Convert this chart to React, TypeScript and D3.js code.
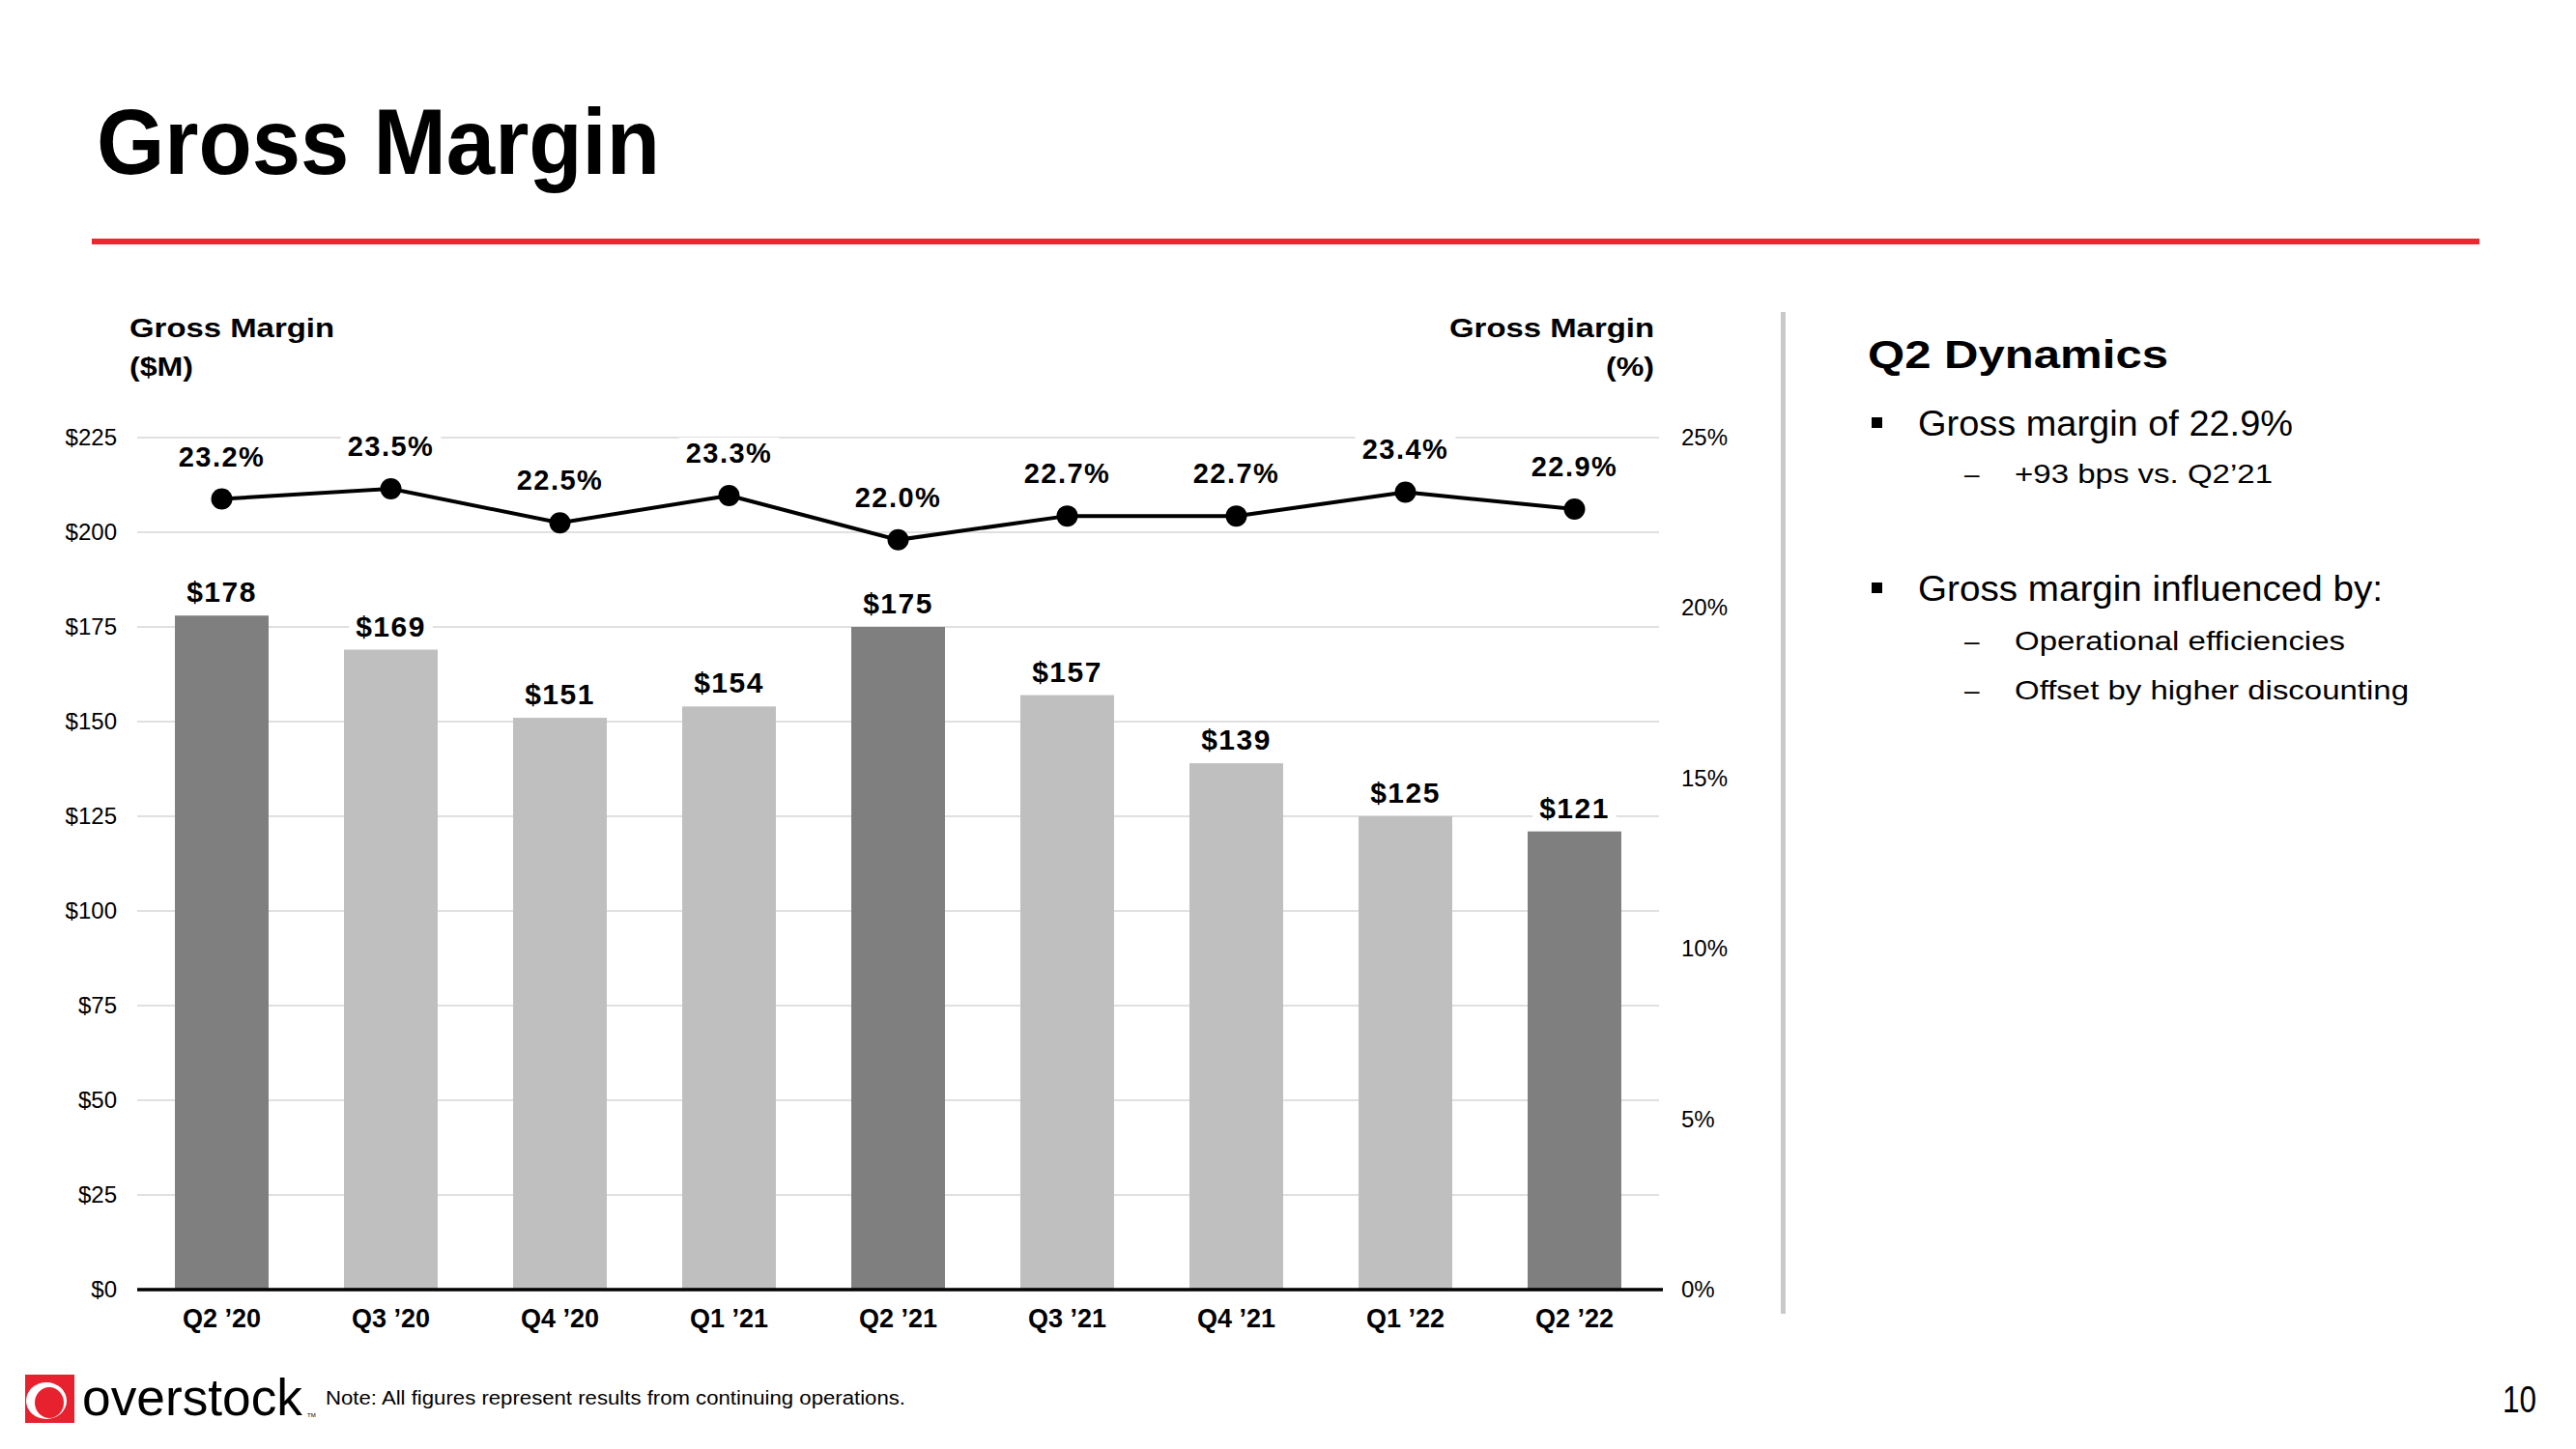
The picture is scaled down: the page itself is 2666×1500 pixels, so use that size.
import { useEffect } from 'react';
import * as d3 from 'd3';

const quarters = ["Q2 \u201920", "Q3 \u201920", "Q4 \u201920", "Q1 \u201921", "Q2 \u201921", "Q3 \u201921", "Q4 \u201921", "Q1 \u201922", "Q2 \u201922"];
const grossMarginM = [178, 169, 151, 154, 175, 157, 139, 125, 121];
const grossMarginPct = [23.2, 23.5, 22.5, 23.3, 22.0, 22.7, 22.7, 23.4, 22.9];
const highlighted = [true, false, false, false, true, false, false, false, true];
const leftTicks = [0, 25, 50, 75, 100, 125, 150, 175, 200, 225];
const rightTicks = [0, 5, 10, 15, 20, 25];

const FONT = "'Liberation Sans', Arial, Helvetica, sans-serif";

// rough text width for the white boxes behind the labels
let ctx: CanvasRenderingContext2D | null = null;
function measure(text: string, size: number, weight: string, spacing: number) {
  if (!ctx) ctx = document.createElement('canvas').getContext('2d');
  if (!ctx) return text.length * size * 0.55;
  ctx.font = `${weight} ${size}px ${FONT}`;
  return ctx.measureText(text).width + spacing * text.length;
}

export default function App() {
  useEffect(() => {
    document.body.style.margin = '0';
  }, []);

  const width = 2666;
  const height = 1500;

  const x = d3.scaleBand<string>()
    .domain(quarters)
    .range([142, 1717])
    .paddingInner(0.446)
    .paddingOuter(0.223);

  const yLeft = d3.scaleLinear().domain([0, 225]).range([1335, 453]);
  const yRight = d3.scaleLinear().domain([0, 25]).range([1335, 453]);

  const line = d3.line<number>()
    .x((d, i) => (x(quarters[i]) as number) + x.bandwidth() / 2)
    .y(d => yRight(d));

  const [x0, x1] = x.range();

  return (
    <svg width={width} height={height} style={{ display: 'block', background: '#fff' }} fontFamily={FONT}>
      {/* title */}
      <text x={100} y={180} fontSize={96} fontWeight="bold" textLength={583} lengthAdjust="spacingAndGlyphs">Gross Margin</text>
      <rect x={95} y={247} width={2471} height={6} fill="#ed2630" />

      {/* axis titles */}
      <text x={134} y={349} fontSize={28} fontWeight="bold" textLength={212} lengthAdjust="spacingAndGlyphs">Gross Margin</text>
      <text x={134} y={389} fontSize={28} fontWeight="bold" textLength={66} lengthAdjust="spacingAndGlyphs">($M)</text>
      <text x={1712} y={349} fontSize={28} fontWeight="bold" textAnchor="end" textLength={212} lengthAdjust="spacingAndGlyphs">Gross Margin</text>
      <text x={1712} y={389} fontSize={28} fontWeight="bold" textAnchor="end" textLength={50} lengthAdjust="spacingAndGlyphs">(%)</text>

      {/* grid */}
      {leftTicks.filter(t => t > 0).map(t => (
        <line key={t} x1={x0} x2={x1} y1={yLeft(t)} y2={yLeft(t)} stroke="#d6d6d6" strokeWidth={1.5} />
      ))}

      {/* left ticks */}
      {leftTicks.map(t => (
        <text key={t} x={121} y={yLeft(t) + 8} fontSize={24} textAnchor="end" fill="#000">${t}</text>
      ))}

      {/* right ticks */}
      {rightTicks.map(t => (
        <text key={t} x={1740} y={yRight(t) + 8} fontSize={24} fill="#000">{t}%</text>
      ))}

      {/* bars */}
      {grossMarginM.map((v, i) => (
        <rect key={i} x={x(quarters[i])} y={yLeft(v)} width={x.bandwidth()} height={yLeft(0) - yLeft(v)}
          fill={highlighted[i] ? '#7f7f7f' : '#bfbfbf'} />
      ))}

      {/* bar labels */}
      {grossMarginM.map((v, i) => {
        const cx = (x(quarters[i]) as number) + x.bandwidth() / 2;
        const label = `$${v}`;
        const w = measure(label, 30, 'bold', 1.5);
        const by = yLeft(v) - 14;
        return (
          <g key={i}>
            <rect x={cx - w / 2 - 7} y={by - 26} width={w + 14} height={32} fill="#fff" />
            <text x={cx} y={by} fontSize={30} fontWeight="bold" textAnchor="middle" letterSpacing={1.5}>{label}</text>
          </g>
        );
      })}

      {/* axis line */}
      <line x1={x0} x2={x1 + 4} y1={yLeft(0)} y2={yLeft(0)} stroke="#000" strokeWidth={3.5} />

      {/* category labels */}
      {quarters.map(q => (
        <text key={q} x={(x(q) as number) + x.bandwidth() / 2} y={1374} fontSize={27} fontWeight="bold" textAnchor="middle">{q}</text>
      ))}

      {/* percentage labels */}
      {grossMarginPct.map((v, i) => {
        const cx = (x(quarters[i]) as number) + x.bandwidth() / 2;
        const label = `${v.toFixed(1)}%`;
        const w = measure(label, 29, 'bold', 1.5);
        const by = yRight(v) - 34;
        return (
          <g key={i}>
            <rect x={cx - w / 2 - 7} y={by - 26} width={w + 14} height={32} fill="#fff" />
            <text x={cx} y={by} fontSize={29} fontWeight="bold" textAnchor="middle" letterSpacing={1.5}>{label}</text>
          </g>
        );
      })}

      {/* line + dots */}
      <path d={line(grossMarginPct) ?? ''} fill="none" stroke="#000" strokeWidth={4} />
      {grossMarginPct.map((v, i) => (
        <circle key={i} cx={(x(quarters[i]) as number) + x.bandwidth() / 2} cy={yRight(v)} r={11} fill="#000" />
      ))}

      {/* divider */}
      <rect x={1843} y={323} width={5} height={1037} fill="#c9c9c9" />

      {/* right panel */}
      <text x={1933} y={381} fontSize={40} fontWeight="bold" textLength={311} lengthAdjust="spacingAndGlyphs">Q2 Dynamics</text>

      <rect x={1937} y={432} width={11} height={11} fill="#000" />
      <text x={1985} y={451} fontSize={36} textLength={388} lengthAdjust="spacingAndGlyphs">Gross margin of 22.9%</text>
      <text x={2033} y={500} fontSize={28}>–</text>
      <text x={2085} y={500} fontSize={28} textLength={267} lengthAdjust="spacingAndGlyphs">+93 bps vs. Q2’21</text>

      <rect x={1937} y={603} width={11} height={11} fill="#000" />
      <text x={1985} y={622} fontSize={36} textLength={481} lengthAdjust="spacingAndGlyphs">Gross margin influenced by:</text>
      <text x={2033} y={673} fontSize={28}>–</text>
      <text x={2085} y={673} fontSize={28} textLength={342} lengthAdjust="spacingAndGlyphs">Operational efficiencies</text>
      <text x={2033} y={724} fontSize={28}>–</text>
      <text x={2085} y={724} fontSize={28} textLength={408} lengthAdjust="spacingAndGlyphs">Offset by higher discounting</text>

      {/* footer logo */}
      <rect x={26} y={1423} width={51} height={50} fill="#e8212e" />
      <ellipse cx={48} cy={1450} rx={21} ry={19} fill="#fff" />
      <ellipse cx={51} cy={1452} rx={15} ry={16} fill="#e8212e" />
      <text x={85} y={1465} fontSize={54} textLength={228} lengthAdjust="spacingAndGlyphs">overstock</text>
      <text x={318} y={1467} fontSize={6}>TM</text>
      <text x={337} y={1454} fontSize={20} textLength={600} lengthAdjust="spacingAndGlyphs">Note: All figures represent results from continuing operations.</text>

      <text x={2590} y={1462} fontSize={38} textLength={35} lengthAdjust="spacingAndGlyphs">10</text>
    </svg>
  );
}
